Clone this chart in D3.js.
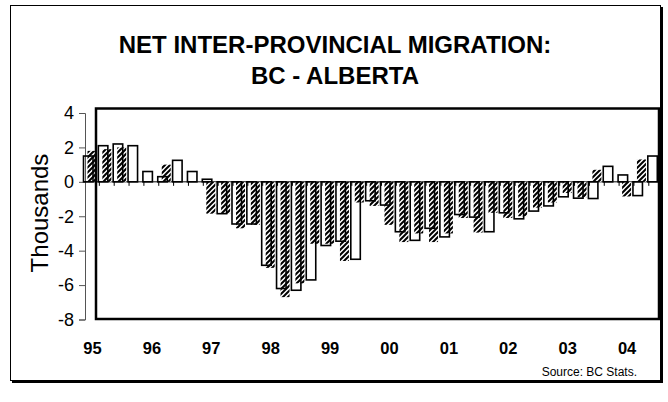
<!DOCTYPE html>
<html>
<head>
<meta charset="utf-8">
<title>Net inter-provincial migration BC - Alberta</title>
<script src="https://cdn.jsdelivr.net/npm/d3@7"></script>
<style>
  body { margin: 0; background: #fff; }
  text { font-family: "Liberation Sans", Arial, sans-serif; }
</style>
</head>
<body>
<svg id="svg"></svg>
<script>
var width = 668;
var height = 402;

// quarters 1995Q1 .. 2004Q3
var yearLabels = ["95", "96", "97", "98", "99", "00", "01", "02", "03", "04"];
var quarterNames = ["Q1", "Q2", "Q3", "Q4"];
var categories = [];
yearLabels.forEach(function (y) {
  quarterNames.forEach(function (q) { categories.push(y + q); });
});
categories = categories.slice(0, 39);

// outlined bars (thousands)
var outlineValues = [1.5, 2.1, 2.2, 2.1, 0.6, 0.3, 1.25, 0.6, 0.15, -1.85,
  -2.45, -2.45, -4.85, -6.2, -6.3, -5.7, -3.7, -3.45, -4.5, -1.1,
  -1.35, -2.9, -3.4, -2.7, -3.2, -1.9, -2.05, -2.9, -1.8, -2.15,
  -1.7, -1.4, -0.87, -0.95, -0.97, 0.9, 0.4, -0.8, 1.5];

// hatched bars (thousands)
var hatchValues = [1.8, 1.9, 2.0, 0, 0, 1.0, 0, 0, -1.85, -1.85,
  -2.7, -2.5, -5.0, -6.7, -5.9, -3.6, -3.6, -4.6, -1.2, -1.4,
  -2.5, -3.5, -3.0, -3.5, -3.0, -2.1, -2.95, -1.8, -2.1, -2.0,
  -1.5, -1.2, -0.65, -0.9, 0.7, 0, -0.85, 1.3, 0];

var yTicks = [4, 2, 0, -2, -4, -6, -8];

var svg = d3.select('#svg')
  .attr('width', width)
  .attr('height', height);

var defs = svg.append('defs');
var pat = defs.append('pattern')
  .attr('id', 'hatch')
  .attr('patternUnits', 'userSpaceOnUse')
  .attr('width', 5)
  .attr('height', 5);
pat.append('rect').attr('width', 5).attr('height', 5).attr('fill', '#fff');
pat.append('path')
  .attr('d', 'M0,5 L5,0 M-1,1 L1,-1 M4,6 L6,4')
  .attr('stroke', '#000')
  .attr('stroke-width', 2);

// outer border with shadow
svg.append('rect')
  .attr('x', 12).attr('y', 7).attr('width', 651).attr('height', 376)
  .attr('fill', '#000');
svg.append('rect')
  .attr('x', 10.5).attr('y', 5.5).attr('width', 650).attr('height', 375)
  .attr('fill', '#fff').attr('stroke', '#000').attr('stroke-width', 1);

// title
svg.append('text')
  .attr('x', 335).attr('y', 53)
  .attr('text-anchor', 'middle')
  .attr('font-size', 24).attr('font-weight', 'bold')
  .text('NET INTER-PROVINCIAL MIGRATION:');
svg.append('text')
  .attr('x', 335).attr('y', 84)
  .attr('text-anchor', 'middle')
  .attr('font-size', 24).attr('font-weight', 'bold')
  .text('BC - ALBERTA');

var x = d3.scaleBand()
  .domain(categories)
  .range([83.5, 83.5 + 39 * 14.85])
  .paddingInner(0).paddingOuter(0);
var y = d3.scaleLinear().domain([-8, 4]).range([319.5, 113]);

// y axis
var yAxis = d3.axisLeft(y).tickValues(yTicks).tickSize(6).tickPadding(5)
  .tickFormat(d3.format('d'));
var gy = svg.append('g').attr('transform', 'translate(85,0)').call(yAxis);
gy.select('.domain').attr('stroke', '#555');
gy.selectAll('.tick line').attr('stroke', '#555');
gy.selectAll('.tick text')
  .attr('font-size', 18)
  .attr('font-family', '"Liberation Sans", Arial, sans-serif')
  .attr('fill', '#000')
  .text(function (d) { return d < 0 ? '-' + Math.abs(d) : d; });

svg.append('text')
  .attr('transform', 'translate(48,' + 213 + ') rotate(-90)')
  .attr('text-anchor', 'middle')
  .attr('font-size', 24)
  .text('Thousands');

// zero line
svg.append('line')
  .attr('x1', 85).attr('x2', 659)
  .attr('y1', y(0)).attr('y2', y(0))
  .attr('stroke', '#000').attr('stroke-width', 1);

// hatched bars
svg.append('g').selectAll('rect')
  .data(hatchValues.map(function (v, i) { return { c: categories[i], v: v }; })
    .filter(function (d) { return d.v !== 0; }))
  .join('rect')
  .attr('x', function (d) { return x(d.c) + 4; })
  .attr('width', 9)
  .attr('y', function (d) { return y(Math.max(0, d.v)); })
  .attr('height', function (d) { return Math.abs(y(d.v) - y(0)); })
  .attr('fill', 'url(#hatch)');

// outlined bars
svg.append('g').selectAll('rect')
  .data(outlineValues.map(function (v, i) { return { c: categories[i], v: v }; })
    .filter(function (d) { return d.v !== 0; }))
  .join('rect')
  .attr('x', function (d) { return x(d.c); })
  .attr('width', 9.5)
  .attr('y', function (d) { return y(Math.max(0, d.v)); })
  .attr('height', function (d) { return Math.abs(y(d.v) - y(0)); })
  .attr('fill', 'none')
  .attr('stroke', '#000')
  .attr('stroke-width', 1.6);

// category ticks on the zero line
svg.append('g').selectAll('line')
  .data(categories.slice(1))
  .join('line')
  .attr('x1', function (d) { return x(d) + 1; })
  .attr('x2', function (d) { return x(d) + 1; })
  .attr('y1', y(0)).attr('y2', y(0) + 4)
  .attr('stroke', '#000').attr('stroke-width', 1);

// plot frame
svg.append('rect')
  .attr('x', 96).attr('y', 108.5).attr('width', 563).attr('height', 210.5)
  .attr('fill', 'none').attr('stroke', '#000').attr('stroke-width', 2.5);

// year labels
svg.append('g').selectAll('text')
  .data(yearLabels)
  .join('text')
  .attr('x', function (d, i) { return x(categories[i * 4]) + 9; })
  .attr('y', 354)
  .attr('text-anchor', 'middle')
  .attr('font-size', 16.5).attr('font-weight', 'bold')
  .text(function (d) { return d; });

svg.append('text')
  .attr('x', 637).attr('y', 376)
  .attr('text-anchor', 'end')
  .attr('font-size', 12)
  .text('Source: BC Stats.');
</script>
</body>
</html>
